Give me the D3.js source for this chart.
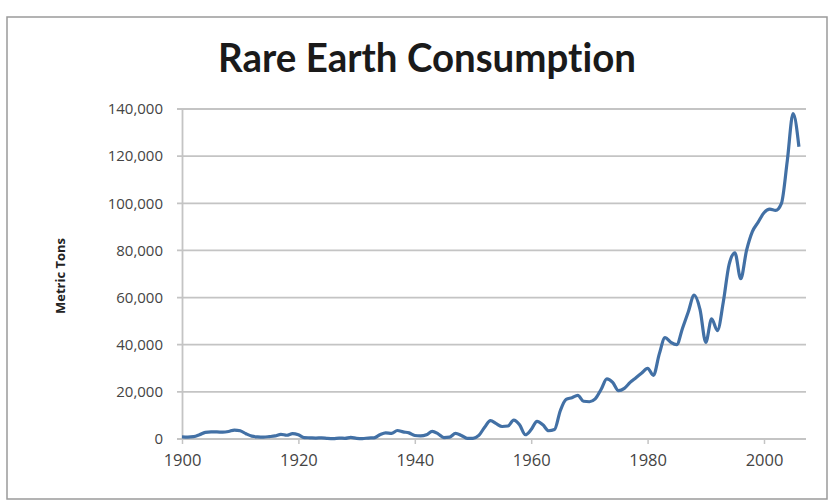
<!DOCTYPE html>
<html>
<head>
<meta charset="utf-8">
<script src="https://cdn.jsdelivr.net/npm/d3@7"></script>
<style>
  html, body { margin: 0; padding: 0; background: #fff; }
  svg { display: block; }
  text { font-variant-ligatures: none; font-feature-settings: "liga" 0, "dlig" 0; }
</style>
</head>
<body>
<svg id="chart" width="834" height="504"></svg>
<script>
const title = "Rare Earth Consumption";
const yAxisTitle = "Metric Tons";
const years = d3.range(1900, 2007);
const consumption = [
  900, 800, 1000, 1800, 2800, 3000, 3000, 2900, 3200, 3800,
  3500, 2200, 1200, 900, 800, 1000, 1300, 2000, 1600, 2300,
  1800, 600, 500, 400, 500, 300, 200, 400, 300, 700,
  300, 200, 400, 500, 1800, 2600, 2400, 3600, 3000, 2600,
  1500, 1300, 1800, 3200, 2200, 600, 800, 2400, 1500, 300,
  300, 1500, 5000, 7800, 6500, 5300, 5500, 8000, 6000, 1800,
  4000, 7500, 6000, 3500, 4000, 12000, 16800, 17500, 18500, 16000,
  15800, 17000, 21000, 25500, 24000, 20500, 21500, 24000, 26000, 28000,
  30000, 27000, 36000, 43000, 41000, 40000, 47000, 54000, 61000, 55000,
  41000, 51000, 46000, 58000, 74000, 79000, 68000, 80000, 88000, 92000,
  96000, 97500, 97000, 100000, 118000, 138000, 124000
];
const yTicks = [0, 20000, 40000, 60000, 80000, 100000, 120000, 140000];
const xTicks = [1900, 1920, 1940, 1960, 1980, 2000];

const data = years.map((yr, i) => ({ year: yr, value: consumption[i] }));

const svg = d3.select("#chart");
const fontFamily = "'Open Sans', 'Noto Sans', sans-serif";

// outer frame
svg.append("rect")
  .attr("x", 7).attr("y", 17).attr("width", 820).attr("height", 482)
  .attr("fill", "#fff").attr("stroke", "#9a9a9a").attr("stroke-width", 1.5);

const pLeft = 182, pRight = 806, pTop = 109, pBottom = 439;

const x = d3.scaleLinear().domain([1900, 1900 + (pRight - pLeft) / 5.82]).range([pLeft, pRight]);
const y = d3.scaleLinear().domain([0, 140000]).range([pBottom, pTop]);

// gridlines
svg.append("g")
  .selectAll("line")
  .data(yTicks)
  .join("line")
  .attr("x1", pLeft - 5).attr("x2", pRight)
  .attr("y1", d => y(d)).attr("y2", d => y(d))
  .attr("stroke", "#c4c4c4").attr("stroke-width", 1.8);

// y axis
const yAxis = d3.axisLeft(y).tickValues(yTicks).tickSize(0).tickPadding(19)
  .tickFormat(d3.format(","));
const gy = svg.append("g").attr("transform", `translate(${pLeft},0)`).call(yAxis);
gy.select(".domain").attr("stroke", "#c4c4c4").attr("stroke-width", 1.8);
gy.selectAll("text").attr("font-family", fontFamily).attr("font-size", 15)
  .attr("fill", "#444");

// x axis
const xAxis = d3.axisBottom(x).tickValues(xTicks).tickSize(5).tickPadding(10)
  .tickFormat(d3.format("d"));
const gx = svg.append("g").attr("transform", `translate(0,${pBottom})`).call(xAxis);
gx.select(".domain").remove();
gx.selectAll("line").attr("stroke", "#c4c4c4").attr("stroke-width", 1.5);
gx.selectAll("text").attr("font-family", fontFamily).attr("font-size", 16.5)
  .attr("fill", "#444");

// line
const line = d3.line().x(d => x(d.year)).y(d => y(d.value)).curve(d3.curveMonotoneX);
svg.append("path")
  .datum(data)
  .attr("fill", "none")
  .attr("stroke", "#4270a5")
  .attr("stroke-width", 3.2)
  .attr("stroke-linejoin", "round")
  .attr("d", line);

// title (condensed to match the narrow original face)
const tg = svg.append("g");
const t = tg.append("text")
  .attr("x", 0).attr("y", 0)
  .attr("text-anchor", "middle")
  .attr("font-family", "Lato, 'Open Sans', sans-serif")
  .attr("font-weight", "700")
  .attr("font-size", 41)
  .attr("fill", "#1a1a1a")
  .text(title);
const w = t.node().getComputedTextLength();
tg.attr("transform", `translate(427,72) scale(${418 / w},1)`);

// y axis title
svg.append("text")
  .attr("transform", "translate(65,276) rotate(-90)")
  .attr("text-anchor", "middle")
  .attr("font-family", fontFamily)
  .attr("font-weight", "700")
  .attr("font-size", 13)
  .attr("fill", "#222")
  .text(yAxisTitle);
</script>
</body>
</html>
